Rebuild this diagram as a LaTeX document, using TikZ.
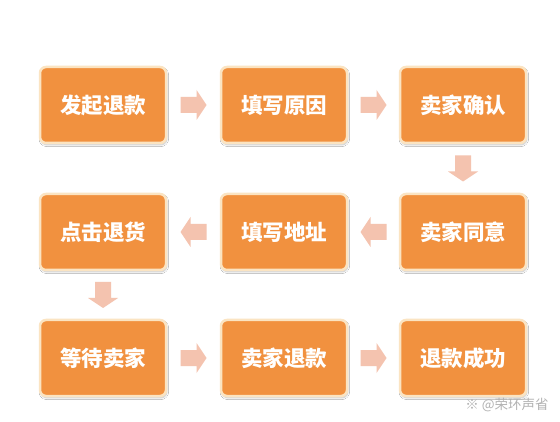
\documentclass[tikz,border=0pt]{standalone}
\usepackage{fontspec}
\newfontfamily\cjk{Noto Sans CJK SC}
\usetikzlibrary{shadows.blur,calc}
\definecolor{boxorange}{HTML}{F1913F}
\definecolor{boxrim}{HTML}{FBE4C2}
\definecolor{arrowpink}{HTML}{F4C3AF}
\tikzset{
  stepbox/.style={draw=boxrim, line width=2.5pt, fill=boxorange, rounded corners=6pt,
    minimum width=126pt, minimum height=76pt, inner sep=0pt, text=white,
    font=\cjk\bfseries\fontsize{21.5}{21.5}\selectfont,
    blur shadow={shadow xshift=0.8pt, shadow yshift=-1.8pt, shadow opacity=25, shadow blur steps=6}},
  arrowfill/.style={fill=arrowpink},
  mark text/.style={text=gray!60, font=\cjk\fontsize{13.5}{13.5}\selectfont, inner sep=0pt}
}
\newcommand\blockarrow[2]{%
  \fill[arrowfill, shift={(#1)}, rotate=#2]
    (-13,-8) -- (3,-8) -- (3,-15) -- (13,0) -- (3,15) -- (3,8) -- (-13,8) -- cycle;}
\begin{document}
\begin{tikzpicture}[x=1pt,y=-1pt]
\useasboundingbox (0,0) rectangle (560,422);
\fill[white] (0,0) rectangle (560,422);
% row 1
\node[stepbox] (b1) at (103,105) {发起退款};
\node[stepbox] (b2) at (284,105) {填写原因};
\node[stepbox] (b3) at (463,105) {卖家确认};
% row 2
\node[stepbox] (b4) at (463,232) {卖家同意};
\node[stepbox] (b5) at (284,232) {填写地址};
\node[stepbox] (b6) at (103,232) {点击退货};
% row 3
\node[stepbox] (b7) at (103,358) {等待卖家};
\node[stepbox] (b8) at (284,358) {卖家退款};
\node[stepbox] (b9) at (463,358) {退款成功};
% arrow positions
\coordinate (m12) at ($(b1.east)!0.5!(b2.west)$);
\coordinate (m23) at ($(b2.east)!0.5!(b3.west)$);
\coordinate (m34) at ($(b3.south)!0.5!(b4.north)$);
\coordinate (m45) at ($(b4.west)!0.5!(b5.east)$);
\coordinate (m56) at ($(b5.west)!0.5!(b6.east)$);
\coordinate (m67) at ($(b6.south)!0.5!(b7.north)$);
\coordinate (m78) at ($(b7.east)!0.5!(b8.west)$);
\coordinate (m89) at ($(b8.east)!0.5!(b9.west)$);
\blockarrow{m12}{0}
\blockarrow{m23}{0}
\blockarrow{m34}{-90}
\blockarrow{m45}{180}
\blockarrow{m56}{180}
\blockarrow{m67}{-90}
\blockarrow{m78}{0}
\blockarrow{m89}{0}
% watermark
\node[mark text] (wm) at (507,405) {※ @荣环声省};
\end{tikzpicture}
\end{document}
